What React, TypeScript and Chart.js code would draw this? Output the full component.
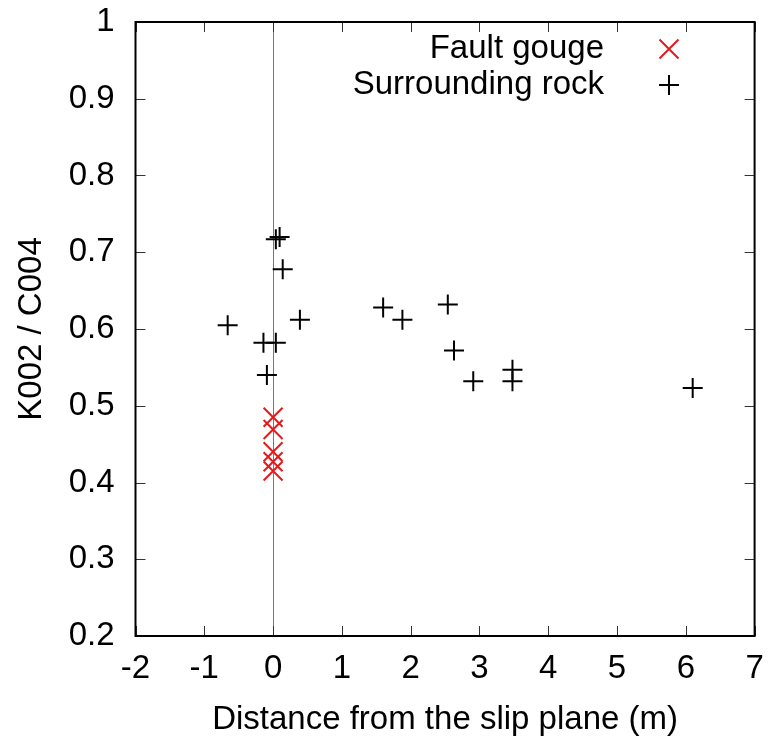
import React, { useEffect, useRef } from "react";
import { Chart, registerables } from "chart.js";

Chart.register(...registerables);

const gougeX = [0, 0, 0, 0, 0];
const gougeY = [0.485, 0.469, 0.44, 0.427, 0.415];

const rockX = [-0.66, -0.14, 0.04, 0.39, -0.09, 0.04, 0.095, 0.14, 1.6, 1.88, 2.54, 2.63, 2.91, 3.48, 3.48, 6.1];
const rockY = [0.605, 0.582, 0.582, 0.612, 0.54, 0.717, 0.72, 0.678, 0.628, 0.612, 0.632, 0.572, 0.532, 0.547, 0.532, 0.523];

const xTicks = [-2, -1, 0, 1, 2, 3, 4, 5, 6, 7];
const yTicks = [0.2, 0.3, 0.4, 0.5, 0.6, 0.7, 0.8, 0.9, 1];

const seriesLabels = ["Fault gouge", "Surrounding rock"];
const RED = "rgb(228,26,28)";
const FONT = "'Liberation Sans', Arial, sans-serif";
const FS = 33;

const zeroPad = (s: any) => {
  s.paddingTop = 0;
  s.paddingBottom = 0;
  s.paddingLeft = 0;
  s.paddingRight = 0;
};

const framePlugin = {
  id: "frame",
  beforeDatasetsDraw(chart: any) {
    const { ctx, chartArea: a, scales } = chart;
    const x0 = scales.x.getPixelForValue(0);
    ctx.save();
    ctx.strokeStyle = "#777";
    ctx.lineWidth = 1;
    ctx.beginPath();
    ctx.moveTo(Math.round(x0) + 0.5, a.top);
    ctx.lineTo(Math.round(x0) + 0.5, a.bottom);
    ctx.stroke();
    ctx.restore();
  },
  afterDatasetsDraw(chart: any) {
    const { ctx, chartArea: a, scales } = chart;
    ctx.save();
    ctx.strokeStyle = "#333";
    ctx.lineWidth = 1;
    const tl = 10;
    ctx.beginPath();
    xTicks.forEach((v) => {
      const px = Math.round(scales.x.getPixelForValue(v)) + 0.5;
      ctx.moveTo(px, a.bottom);
      ctx.lineTo(px, a.bottom - tl);
      ctx.moveTo(px, a.top);
      ctx.lineTo(px, a.top + tl);
    });
    yTicks.forEach((v) => {
      const py = Math.round(scales.y.getPixelForValue(v)) + 0.5;
      ctx.moveTo(a.left, py);
      ctx.lineTo(a.left + tl, py);
      ctx.moveTo(a.right, py);
      ctx.lineTo(a.right - tl, py);
    });
    ctx.stroke();
    ctx.strokeStyle = "#000";
    ctx.lineWidth = 2;
    ctx.strokeRect(a.left, a.top, a.right - a.left, a.bottom - a.top);

    // legend
    ctx.font = `${FS}px ${FONT}`;
    ctx.fillStyle = "#000";
    ctx.textAlign = "right";
    ctx.textBaseline = "middle";
    const textRight = 604;
    const symX = 669;
    const rows = [49, 85];
    ctx.fillText(seriesLabels[0], textRight, rows[0]);
    ctx.fillText(seriesLabels[1], textRight, rows[1]);
    ctx.lineWidth = 2;
    ctx.strokeStyle = RED;
    const r1 = 9.5;
    ctx.beginPath();
    ctx.moveTo(symX - r1, rows[0] - r1);
    ctx.lineTo(symX + r1, rows[0] + r1);
    ctx.moveTo(symX - r1, rows[0] + r1);
    ctx.lineTo(symX + r1, rows[0] - r1);
    ctx.stroke();
    ctx.strokeStyle = "#000";
    const r2 = 10;
    ctx.beginPath();
    ctx.moveTo(symX - r2, rows[1]);
    ctx.lineTo(symX + r2, rows[1]);
    ctx.moveTo(symX, rows[1] - r2);
    ctx.lineTo(symX, rows[1] + r2);
    ctx.stroke();
    ctx.restore();
  },
};

export default function App() {
  const ref = useRef<HTMLCanvasElement>(null);
  useEffect(() => {
    document.body.style.margin = "0";
    const chart = new Chart(ref.current!, {
      type: "scatter",
      data: {
        datasets: [
          {
            label: seriesLabels[0],
            data: gougeX.map((x, i) => ({ x, y: gougeY[i] })),
            pointStyle: "crossRot",
            pointRadius: 13.4,
            borderColor: RED,
            backgroundColor: RED,
            borderWidth: 2,
          },
          {
            label: seriesLabels[1],
            data: rockX.map((x, i) => ({ x, y: rockY[i] })),
            pointStyle: "cross",
            pointRadius: 10,
            borderColor: "#000",
            backgroundColor: "#000",
            borderWidth: 2,
          },
        ],
      },
      options: {
        responsive: false,
        animation: false,
        layout: { padding: { top: 22, right: 15, left: 0, bottom: 0 } },
        plugins: { legend: { display: false }, tooltip: { enabled: false } },
        scales: {
          x: {
            type: "linear",
            min: -2,
            max: 7,
            afterBuildTicks: (s: any) => {
              s.ticks = xTicks.map((v) => ({ value: v }));
            },
            afterFit: (s: any) => {
              s.height = 104;
              zeroPad(s);
            },
            grid: { display: false, drawTicks: false },
            border: { display: false },
            ticks: { color: "#000", font: { family: FONT, size: FS }, padding: 13, maxRotation: 0, autoSkip: false },
            title: {
              display: true,
              text: "Distance from the slip plane (m)",
              color: "#000",
              font: { family: FONT, size: FS },
              padding: { top: 0, bottom: 0 },
            },
          },
          y: {
            type: "linear",
            min: 0.2,
            max: 1,
            afterBuildTicks: (s: any) => {
              s.ticks = yTicks.map((v) => ({ value: v }));
            },
            afterFit: (s: any) => {
              s.width = 135.5;
              zeroPad(s);
            },
            grid: { display: false, drawTicks: false },
            border: { display: false },
            ticks: {
              color: "#000",
              font: { family: FONT, size: FS },
              padding: 21,
              autoSkip: false,
              callback: (v: any) => String(Math.round(Number(v) * 10) / 10),
            },
            title: {
              display: true,
              text: "K002 / C004",
              color: "#000",
              font: { family: FONT, size: FS },
              padding: { top: 12, bottom: 0 },
            },
          },
        },
      },
      plugins: [framePlugin],
    });
    return () => chart.destroy();
  }, []);
  return <canvas ref={ref} width={770} height={740} style={{ display: "block" }} />;
}
